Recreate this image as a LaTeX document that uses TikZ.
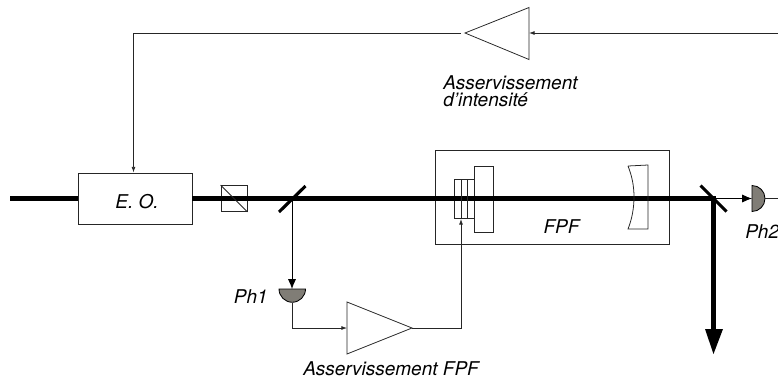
\documentclass[tikz,border=0pt]{standalone}
\usepackage{fontspec}
\setmainfont{TeX Gyre Heros}
\usetikzlibrary{arrows.meta}

\definecolor{diodegray}{RGB}{128,125,118}

\tikzset{
    thinline/.style={line width=0.55pt, draw=black!85},
    beam/.style={line width=3.1pt},
    thinarrow/.style={thinline, -{Latex[length=4pt,width=2.8pt]}},
    photoarrow/.style={line width=0.6pt, -{Latex[length=7pt,width=5.8pt]}},
    mirror/.style={line width=2.2pt},
    diode/.style={draw=black, line width=0.6pt, fill=diodegray},
    label/.style={font=\fontsize{13.5}{12.3}\selectfont\itshape, inner sep=0pt}
}

\begin{document}
\begin{tikzpicture}[x=0.025cm,y=-0.025cm]
    \useasboundingbox (0,0) rectangle (778,382);

    % Free ends and corners
    \coordinate (beamin) at (10,198.5);
    \coordinate (split) at (292,198.5);
    \coordinate (pick) at (713.5,198.5);
    \coordinate (beamout) at (713.5,354);
    \coordinate (feedin) at (778,33);
    \coordinate (ampItip) at (465,33);
    \coordinate (ampIbase) at (529,33);
    \coordinate (ampIend) at (461,33);
    \coordinate (ampFbase) at (347,328);
    \coordinate (ampFtip) at (412,328);
    \coordinate (phoneout) at (292,303);
    \coordinate (phonein) at (292,289);
    \coordinate (phtwoin) at (752,198.5);
    \coordinate (phtwoend) at (765,198.5);
    \coordinate (phtwoout) at (778,198.5);
    \coordinate (piezoin) at (461,219);
    \coordinate (eoin) at (133.5,172.5);

    % Boxes
    \node (eo) [draw, thinline, minimum width=2.85cm, minimum height=1.28cm] at (135,198.5) {};
    \node (cube) [draw, thinline, minimum size=0.65cm, inner sep=0pt] at (234,198.5) {};
    \node (cavity) [draw, thinline, minimum width=5.85cm, minimum height=2.35cm] at (552,197) {};
    \node (piezo) [draw, thinline, minimum width=0.5cm, minimum height=0.975cm] at (464,198.5) {};
    \node (block) [draw, thinline, minimum width=0.475cm, minimum height=1.65cm] at (483.5,199) {};

    % Main beam
    \draw[beam] (beamin) -- (eo.west);
    \draw[beam] (eo.east) -- (pick) -- (713.5,330);
    \fill (705,329) -- (723,329) -- (beamout) -- cycle;

    % Polariser, piezo stack and cavity mirror
    \draw[thinline] (cube.north west) -- (cube.south east);
    \draw[thinline] (461,179) -- (461,218);
    \draw[thinline] (467,179) -- (467,218);
    \draw[thinline] (628,166) -- (648,165) -- (648,229) -- (628,229) .. controls (632,219) and (634,208) .. (634,197) .. controls (634,186) and (632,176) .. (628,166);

    % Separators
    \draw[mirror] (279,212) -- (305.5,186);
    \draw[mirror] (700.5,185.5) -- (726.5,211.5);

    % Photodiodes
    \draw[diode] (305.5,289) arc (0:180:13.25) -- cycle;
    \draw[diode] (752,185.5) arc (-90:90:13) -- cycle;

    % Amplifiers
    \draw[thinline] (ampItip) -- (529,7.5) -- (529,59.5) -- cycle;
    \draw[thinline] (ampFtip) -- (347,302) -- (347,354) -- cycle;

    % Links
    \draw[photoarrow] (split) -- (phonein);
    \draw[photoarrow] (pick) -- (phtwoin);
    \draw[thinline] (phtwoend) -- (phtwoout);
    \draw[thinarrow] (phoneout) |- (ampFbase);
    \draw[thinarrow] (ampFtip) -| (piezoin);
    \draw[thinarrow] (feedin) -- (ampIbase);
    \draw[thinarrow] (ampIend) -| (eoin);

    % Labels
    \node (eolabel) [label] at (137,201.5) {E. O.};
    \node (phone) [label, anchor=base east] at (268,303) {Ph1};
    \node (phtwo) [label, anchor=base west] at (745,238) {Ph2};
    \node (fpf) [label, anchor=base] at (561.5,233) {FPF};
    \node (asseri) [label, anchor=north west, align=left] at (443,75) {Asservissement\\d'intensité};
    \node (asserf) [label, anchor=base west] at (303,375.7) {Asservissement FPF};
\end{tikzpicture}
\end{document}
